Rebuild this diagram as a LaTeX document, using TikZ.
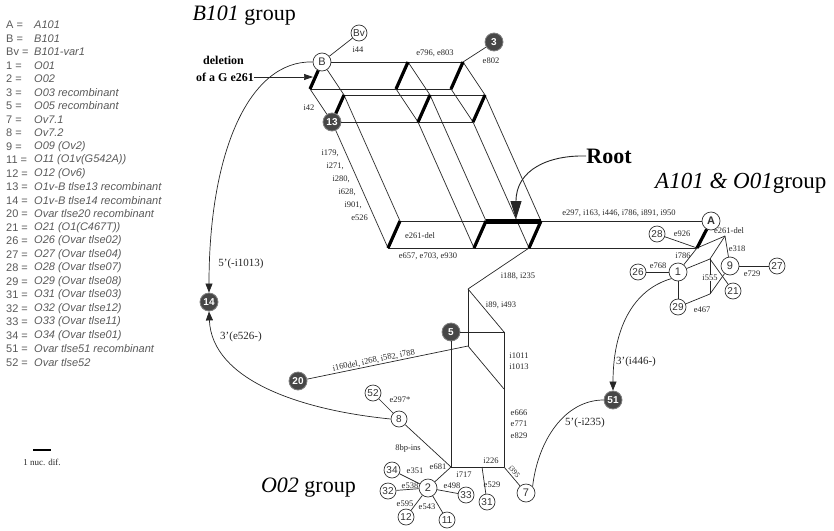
\documentclass[tikz,border=0pt]{standalone}
\usepackage{fontspec}
\setmainfont{Liberation Serif}
\newfontfamily\lsans{Liberation Sans}
\usetikzlibrary{arrows.meta}
\begin{document}
\begin{tikzpicture}[x=1pt,y=-1pt,
  ln/.style={line width=0.7pt, draw=black!85},
  thk/.style={line width=3.2pt, draw=black},
  rootbar/.style={line width=5pt, draw=black},
  oc/.style={circle, draw=black!80, line width=0.7pt, fill=white, inner sep=0pt, minimum size=16pt, font=\lsans\fontsize{10}{10}\selectfont, text=black!80},
  ocb/.style={oc, minimum size=18pt, font=\lsans\fontsize{11}{11}\selectfont},
  dc/.style={circle, draw=black!50, line width=0.8pt, fill=black!72, inner sep=0pt, minimum size=18pt, font=\lsans\bfseries\fontsize{10}{10}\selectfont, text=white},
  lbl/.style={font=\fontsize{8.5}{9}\selectfont, text=black!85, inner sep=1pt},
  big/.style={font=\fontsize{11}{12}\selectfont, text=black!85, inner sep=1pt},
  ttl/.style={font=\fontsize{22}{24}\selectfont, inner sep=0pt},
  leg/.style={font=\lsans\fontsize{11}{12}\selectfont, text=black!65, anchor=west, inner sep=0pt},
  arr/.style={ln, -{Triangle[length=9pt,width=7pt]}},
]
\useasboundingbox (0,0) rectangle (834,530);

% ---------------- legend ----------------
\foreach \k/\v [count=\i from 0] in {A/A101, B/B101, Bv/B101-var1, 1/O01, 2/O02, 3/O03 recombinant, 5/O05 recombinant, 7/Ov7.1, 8/Ov7.2, 9/O09 (Ov2), 11/O11 (O1v(G542A)), 12/O12 (Ov6), 13/O1v-B tlse13 recombinant, 14/O1v-B tlse14 recombinant, 20/Ovar tlse20 recombinant, 21/O21 (O1(C467T)), 26/O26 (Ovar tlse02), 27/O27 (Ovar tlse04), 28/O28 (Ovar tlse07), 29/O29 (Ovar tlse08), 31/O31 (Ovar tlse03), 32/O32 (Ovar tlse12), 33/O33 (Ovar tlse11), 34/O34 (Ovar tlse01), 51/Ovar tlse51 recombinant, 52/Ovar tlse52}{
  \node[leg] (lk\i) at (6,25+13.5*\i) {\k\ =};
  \node[leg] (lv\i) at (34,25+13.5*\i) {\itshape \v};
}

% scale bar
\coordinate (sb1) at (33,450); \coordinate (sb2) at (51,450);
\draw[line width=1.2pt] (sb1) -- (sb2);
\node[big, font=\fontsize{9}{10}\selectfont] (sbt) at (42,462) {1 nuc. dif.};

% ---------------- titles ----------------
\node[ttl, anchor=east] (tB) at (296,16) {\textit{B101} group};
\node[ttl, anchor=west, font=\fontsize{23}{25}\selectfont] (tA) at (655,183) {\textit{A101 \& O01}group};
\node[ttl, anchor=east] (tO) at (356,488) {\textit{O02} group};
\node[font=\bfseries\fontsize{22}{24}\selectfont, inner sep=0pt] (root) at (609,156) {Root};
\node[font=\bfseries\fontsize{12}{13}\selectfont, inner sep=0pt, anchor=west] (del1) at (203,60) {deletion};
\node[font=\bfseries\fontsize{12}{13}\selectfont, inner sep=0pt, anchor=west] (del2) at (196,77) {of a G e261};

% ---------------- B101 lattice ----------------
\coordinate (T2) at (408,62); \coordinate (T3) at (463,62);
\coordinate (U1) at (310,89); \coordinate (U2) at (396,89); \coordinate (U3) at (451,89);
\coordinate (S1) at (344,95); \coordinate (S2) at (430,95); \coordinate (S3) at (485,95);
\coordinate (M2) at (418,122); \coordinate (M3) at (473,122);
\coordinate (P1) at (388,248); \coordinate (P2) at (474,248); \coordinate (P3) at (529,248);
\coordinate (Q1) at (400,221); \coordinate (Q2) at (486,221); \coordinate (Q3) at (541,221);
\coordinate (deltip) at (313,77);
\coordinate (rtip) at (516,219);

\node[ocb] (B) at (322,62) {B};
\node[oc] (Bv) at (359,33) {Bv};
\node[dc] (n3) at (494,42) {3};
\node[dc] (n13) at (332,122) {13};

% A101 group
\coordinate (N0) at (697,248);
\coordinate (N1) at (725,236);
\coordinate (N2) at (710,259);
\coordinate (N3) at (710,294);
\node[ocb, font=\lsans\bfseries\fontsize{11}{11}\selectfont] (A) at (711,221) {A};
\node[oc] (n28) at (657,234) {28};
\node[oc] (n26) at (638,272) {26};
\node[ocb] (n1) at (678,272) {1};
\node[ocb] (n9) at (730,266) {9};
\node[oc] (n27) at (777,266) {27};
\node[oc] (n21) at (733,291) {21};
\node[oc] (n29) at (678,307) {29};
\node[dc] (n51) at (613,400) {51};

% middle / O02 group
\coordinate (V2) at (468,289);
\coordinate (V1) at (468,346);
\coordinate (R1) at (504,332);
\coordinate (R2) at (504,389);
\coordinate (R3) at (504,467);
\coordinate (W) at (451,467);
\coordinate (J) at (482,467);
\node[dc] (n5) at (451,332) {5};
\node[dc] (n20) at (298,381) {20};
\node[dc] (n14) at (209,302) {14};
\node[oc] (n52) at (373,393) {52};
\node[oc] (n8) at (399,419) {8};
\node[ocb] (n2) at (428,488) {2};
\node[oc] (n34) at (392,470) {34};
\node[oc] (n32) at (388,491) {32};
\node[oc] (n33) at (466,495) {33};
\node[oc] (n12) at (406,517) {12};
\node[oc] (n11) at (447,520) {11};
\node[oc] (n31) at (487,502) {31};
\node[ocb] (n7) at (526,493) {7};

% ---------------- thin edges ----------------
\draw[ln] (B) -- (Bv);
\draw[ln] (T3) -- (n3);
\draw[ln] (B) -- (T3);
\draw[ln] (U1) -- (U3);
\draw[ln] (S1) -- (S3);
\draw[ln] (n13) -- (M3);
\draw[ln] (B) -- (S1);
\draw[ln] (U1) -- (n13);
\draw[ln] (T2) -- (S2);
\draw[ln] (U2) -- (M2);
\draw[ln] (T3) -- (S3);
\draw[ln] (U3) -- (M3);
\draw[ln] (n13) -- (P1);
\draw[ln] (S1) -- (Q1);
\draw[ln] (M2) -- (P2);
\draw[ln] (S2) -- (Q2);
\draw[ln] (M3) -- (P3);
\draw[ln] (S3) -- (Q3);
\draw[ln] (Q1) -- (A);
\draw[ln] (P1) -- (N0);

% A group
\draw[ln] (n28) -- (N0);
\draw[ln] (N0) -- (N1);
\draw[ln] (N0) -- (n1);
\draw[ln] (n26) -- (n1);
\draw[ln] (n1) -- (N2);
\draw[ln] (N2) -- (N1);
\draw[ln] (N1) -- (n9);
\draw[ln] (n9) -- (n27);
\draw[ln] (N2) -- (N3);
\draw[ln] (N2) -- (n21);
\draw[ln] (N3) -- (n9);
\draw[ln] (N3) -- (n29);
\draw[ln] (n1) -- (n29);

% middle
\draw[ln] (P3) -- (V2);
\draw[ln] (V2) -- (V1);
\draw[ln] (V2) -- (R1);
\draw[ln] (n5) -- (R1);
\draw[ln] (V1) -- (R2);
\draw[ln] (R1) -- (R3);
\draw[ln] (n5) -- (W);
\draw[ln] (n20) -- (V1);
\draw[ln] (W) -- (R3);
\draw[ln] (R3) -- (n7);
\draw[ln] (W) -- (n2);
\draw[ln] (J) -- (n31);
\draw[ln] (n8) -- (W);
\draw[ln] (n52) -- (n8);
\draw[ln] (n2) -- (n34);
\draw[ln] (n2) -- (n32);
\draw[ln] (n2) -- (n33);
\draw[ln] (n2) -- (n12);
\draw[ln] (n2) -- (n11);

% ---------------- thick edges (e261 deletion) ----------------
\draw[thk] (B) -- (U1);
\draw[thk] (T2) -- (U2);
\draw[thk] (T3) -- (U3);
\draw[thk] (S1) -- (n13);
\draw[thk] (S2) -- (M2);
\draw[thk] (S3) -- (M3);
\draw[thk] (Q1) -- (P1);
\draw[thk] (Q2) -- (P2);
\draw[thk] (Q3) -- (P3);
\draw[thk] (A) -- (N0);
\draw[rootbar] (Q2) -- (Q3);

% ---------------- curves / arrows ----------------
\draw[arr] (B.west) .. controls (250,60) and (209,150) .. (n14.north);
\draw[arr] (n8.west) .. controls (300,410) and (212,380) .. (n14.south);
\draw[arr] (n1.south west) .. controls (632,290) and (613,330) .. (n51.north);
\draw[ln] (n51.west) .. controls (565,400) and (538,440) .. (n7.north east);
\draw[ln, line width=0.9pt, -{Triangle[length=18pt,width=11pt]}] (root.west) .. controls (548,155) and (516,170) .. (rtip);
\draw[ln, -{Triangle[length=9pt,width=6pt]}] (del2.east) -- (deltip);

% ---------------- labels ----------------
\node[lbl] (li44) at (358,50) {i44};
\node[lbl] (le796) at (435,53) {e796, e803};
\node[lbl] (le802) at (491,61) {e802};
\node[lbl] (li42) at (309,108) {i42};
\node[lbl, anchor=east] (lm1) at (340,153) {i179,};
\node[lbl, anchor=east] (lm2) at (345,166) {i271,};
\node[lbl, anchor=east] (lm3) at (351,179) {i280,};
\node[lbl, anchor=east] (lm4) at (357,192) {i628,};
\node[lbl, anchor=east] (lm5) at (363,205) {i901,};
\node[lbl, anchor=east] (lm6) at (369,218) {e526};
\node[lbl, anchor=west] (ldel) at (404,236) {e261-del};
\node[lbl] (lbot) at (428,256) {e657, e703, e930};
\node[lbl] (ltop) at (619,213) {e297, i163, i446, i786, i891, i950};

\node[lbl] (le926) at (682,234) {e926};
\node[lbl, anchor=west] (ladel) at (713,231) {e261-del};
\node[lbl] (le318) at (737,249) {e318};
\node[lbl] (le729) at (752,274) {e729};
\node[lbl] (le768) at (658,266) {e768};
\node[lbl] (li786) at (683,256) {i786};
\node[lbl, fill=white, inner sep=0.5pt] (li555) at (710,278) {i555};
\node[lbl] (le467) at (702,310) {e467};

\node[big] (l3a) at (636,362) {3'(i446-)};
\node[big] (l5b) at (585,423) {5'(-i235)};
\node[big] (l5a) at (241,264) {5'(-i1013)};
\node[big] (l3b) at (241,337) {3'(e526-)};

\node[lbl] (li188) at (518,276) {i188, i235};
\node[lbl] (li89) at (501,305) {i89, i493};
\node[lbl] (li1011) at (519,356) {i1011};
\node[lbl] (li1013) at (519,367) {i1013};
\node[lbl] (le666) at (519,413) {e666};
\node[lbl] (le771) at (519,424) {e771};
\node[lbl] (le829) at (519,436) {e829};
\path (n20) -- node[lbl, sloped, above, pos=0.42] (l20) {i160del, i268, i582, i788} (V1);
\path (R3) -- node[lbl, sloped, above=1pt, pos=0.42, font=\fontsize{7.5}{8}\selectfont] (l395) {i395} (n7);
\node[lbl] (le297s) at (400,400) {e297*};
\node[lbl] (l8bp) at (408,448) {8bp-ins};
\node[lbl] (le681) at (438,467) {e681};
\node[lbl] (li717) at (464,475) {i717};
\node[lbl] (li226) at (491,461) {i226};
\node[lbl] (le529) at (492,485) {e529};
\node[lbl] (le351) at (415,471) {e351};
\node[lbl] (le538) at (410,486) {e538};
\node[lbl] (le498) at (452,486) {e498};
\node[lbl] (le595) at (405,504) {e595};
\node[lbl] (le543) at (427,507) {e543};
\end{tikzpicture}
\end{document}
